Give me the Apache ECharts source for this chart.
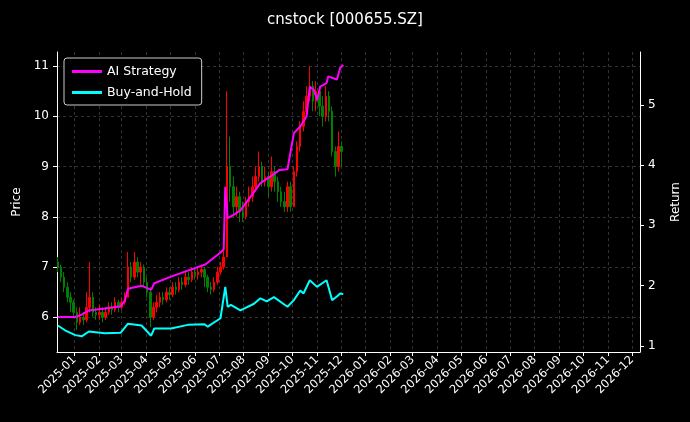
<!DOCTYPE html>
<html>
<head>
<meta charset="utf-8">
<script src="https://cdn.jsdelivr.net/npm/echarts@6/dist/echarts.min.js"></script>
<style>html,body{margin:0;background:#000}#c{width:690px;height:422px}</style>
</head>
<body>
<div id="c"></div>
<script>
// candle every 4 calendar days starting 2024-12-11
const candleStart = '2024-12-11';
const closes = [7.0,6.8,6.6,6.4,6.3,6.1,5.9,6.0,5.95,6.2,6.4,6.1,6.05,6.1,6.0,6.1,6.2,6.15,6.3,6.2,
  6.3,6.4,7.0,6.8,7.1,6.9,7.0,6.7,6.5,6.0,6.2,6.3,6.4,6.35,6.5,6.45,6.6,6.55,6.7,6.65,
  6.8,6.75,6.9,6.85,6.9,6.95,6.8,6.6,6.55,6.7,6.9,7.0,7.2,9.0,8.6,8.2,8.4,8.1,8.0,8.3,
  8.4,8.6,8.8,9.0,8.7,8.8,8.6,8.9,8.7,8.5,8.3,8.2,8.6,8.2,8.9,9.4,9.8,10.1,10.4,10.6,
  10.3,10.5,10.2,10.0,10.4,10.1,9.3,9.0,9.4,9.3];
const highs = [7.2,7.05,6.9,6.7,6.5,6.35,6.2,6.2,6.1,6.5,7.1,6.5,6.2,6.25,6.2,6.2,6.3,6.3,6.4,6.35,
  6.4,6.5,7.3,7.1,7.3,7.2,7.1,7.05,6.8,6.6,6.3,6.45,6.5,6.5,6.6,6.6,6.7,6.7,6.8,6.8,
  6.9,6.9,7.0,7.0,7.0,7.05,7.0,6.85,6.7,6.8,7.0,7.1,7.35,10.5,9.6,8.8,8.6,8.5,8.3,8.4,
  8.6,8.8,9.0,9.3,9.1,9.0,8.9,9.2,9.0,8.8,8.6,8.5,8.7,8.7,9.0,9.5,9.9,10.3,10.6,11.0,
  10.7,10.7,10.6,10.4,10.6,10.5,10.2,9.4,9.7,9.5];
const lows = [6.9,6.7,6.5,6.3,6.1,6.0,5.75,5.85,5.85,5.9,6.1,6.0,5.95,5.95,5.9,5.95,6.05,6.05,6.1,6.1,
  6.15,6.25,6.4,6.7,6.75,6.8,6.65,6.6,6.4,5.8,5.95,6.1,6.2,6.25,6.3,6.35,6.4,6.45,6.5,6.55,
  6.6,6.65,6.7,6.75,6.75,6.8,6.6,6.5,6.45,6.5,6.65,6.85,6.95,7.2,8.3,8.0,8.0,7.9,7.9,7.95,
  8.2,8.3,8.5,8.7,8.6,8.6,8.4,8.5,8.5,8.3,8.2,8.1,8.1,8.1,8.2,8.8,9.3,9.7,10.0,10.3,
  10.1,10.1,10.0,9.8,9.9,9.9,9.2,8.8,8.9,9.0];

// [date, cumulative return]
const aiStrategy = [['2024-12-11',1.48],['2025-01-02',1.48],['2025-01-10',1.52],['2025-01-19',1.59],
  ['2025-02-08',1.62],['2025-02-28',1.66],['2025-03-05',1.75],['2025-03-09',1.95],['2025-03-26',2.0],
  ['2025-04-07',1.93],['2025-04-11',2.04],['2025-05-02',2.15],['2025-05-23',2.25],['2025-06-14',2.35],
  ['2025-07-03',2.55],['2025-07-07',2.6],['2025-07-09',3.64],['2025-07-12',3.12],['2025-07-20',3.18],
  ['2025-07-28',3.25],['2025-08-14',3.55],['2025-08-22',3.7],['2025-08-30',3.77],['2025-09-08',3.85],
  ['2025-09-15',3.92],['2025-09-25',3.93],['2025-10-03',4.53],['2025-10-11',4.64],['2025-10-19',4.81],
  ['2025-10-23',5.3],['2025-10-28',5.25],['2025-11-01',5.08],['2025-11-05',5.3],['2025-11-13',5.36],
  ['2025-11-15',5.47],['2025-11-26',5.42],['2025-11-30',5.61],['2025-12-04',5.66]];
const buyHold = [['2024-12-11',1.34],['2024-12-20',1.26],['2025-01-02',1.18],['2025-01-10',1.16],
  ['2025-01-19',1.24],['2025-02-08',1.21],['2025-02-28',1.22],['2025-03-09',1.37],['2025-03-26',1.34],
  ['2025-04-07',1.17],['2025-04-11',1.29],['2025-05-02',1.29],['2025-05-23',1.35],['2025-06-13',1.36],
  ['2025-06-17',1.32],['2025-07-03',1.46],['2025-07-09',1.98],['2025-07-12',1.65],['2025-07-16',1.68],
  ['2025-07-28',1.59],['2025-08-14',1.7],['2025-08-22',1.79],['2025-08-30',1.74],['2025-09-08',1.81],
  ['2025-09-25',1.65],['2025-10-03',1.76],['2025-10-11',1.92],['2025-10-15',1.87],['2025-10-23',2.09],
  ['2025-11-01',1.98],['2025-11-13',2.09],['2025-11-20',1.76],['2025-11-26',1.82],['2025-11-30',1.87],
  ['2025-12-04',1.86]];

const monthTicks = ['2025-01','2025-02','2025-03','2025-04','2025-05','2025-06','2025-07','2025-08',
  '2025-09','2025-10','2025-11','2025-12','2026-01','2026-02','2026-03','2026-04','2026-05','2026-06',
  '2026-07','2026-08','2026-09','2026-10','2026-11','2026-12'];
const priceTicks = [6, 7, 8, 9, 10, 11];
const returnTicks = [1, 2, 3, 4, 5];

const DAY = 86400000;
const t0 = Date.parse(candleStart);
const candles = closes.map((c, i) => {
  const o = i === 0 ? 7.1 : closes[i - 1];
  return [t0 + i * 4 * DAY, o, c, lows[i], highs[i]];
});
const toXY = arr => arr.map(([d, v]) => [Date.parse(d), v]);
const monthVals = monthTicks.map(m => Date.parse(m + '-01'));
const fmtMonth = v => { const d = new Date(v); return d.getUTCFullYear() + '-' + String(d.getUTCMonth() + 1).padStart(2, '0'); };

const grid = { color: '#555', type: [3, 3], width: 0.6 };
const chart = echarts.init(document.getElementById('c'));
chart.setOption({
  backgroundColor: '#000',
  animation: false,
  title: { text: 'cnstock [000655.SZ]', left: 'center', top: 8,
    textStyle: { color: '#fff', fontSize: 15, fontWeight: 'normal', fontFamily: 'DejaVu Sans' } },
  legend: {
    orient: 'vertical', left: 64, top: 58, padding: [7, 10, 6, 8], itemGap: 8,
    borderColor: '#ccc', borderWidth: 1, borderRadius: 3, backgroundColor: '#000',
    itemWidth: 30, itemHeight: 3, icon: 'rect',
    textStyle: { color: '#fff', fontSize: 12.5, fontFamily: 'DejaVu Sans' },
    data: ['AI Strategy', 'Buy-and-Hold']
  },
  grid: { left: 57, right: 48, top: 52, bottom: 70 },
  xAxis: {
    type: 'value', min: Date.parse('2024-12-10'), max: Date.parse('2026-12-11'),
    axisLine: { lineStyle: { color: '#fff' } },
    axisTick: { customValues: monthVals, length: 4, lineStyle: { color: '#fff' } },
    axisLabel: { customValues: monthVals, formatter: fmtMonth, rotate: 45, color: '#fff',
      fontSize: 11.5, fontFamily: 'DejaVu Sans', margin: 6 },
    splitLine: { show: true, lineStyle: grid }
  },
  yAxis: [{
    type: 'value', min: 5.31, max: 11.28, name: 'Price', nameLocation: 'middle', nameGap: 32,
    nameTextStyle: { color: '#fff', fontSize: 12, fontFamily: 'DejaVu Sans' },
    axisLine: { show: true, lineStyle: { color: '#fff' } },
    axisTick: { show: true, customValues: priceTicks, length: 4 },
    axisLabel: { customValues: priceTicks, color: '#fff', fontSize: 12, fontFamily: 'DejaVu Sans' },
    splitLine: { show: true, lineStyle: grid }
  }, {
    type: 'value', min: 0.9, max: 5.875, name: 'Return', nameLocation: 'middle', nameGap: 30,
    nameTextStyle: { color: '#fff', fontSize: 12, fontFamily: 'DejaVu Sans' },
    axisLine: { show: true, lineStyle: { color: '#fff' } },
    axisTick: { show: true, customValues: returnTicks, length: 4 },
    axisLabel: { customValues: returnTicks, color: '#fff', fontSize: 12, fontFamily: 'DejaVu Sans' },
    splitLine: { show: false }
  }],
  series: [{
    type: 'candlestick', data: candles, barWidth: 2,
    itemStyle: { color: '#ff0000', color0: '#008000', borderColor: '#ff0000', borderColor0: '#008000', borderWidth: 1 }
  }, {
    name: 'AI Strategy', type: 'line', yAxisIndex: 1, data: toXY(aiStrategy), showSymbol: false,
    lineStyle: { color: '#ff00ff', width: 2 }, itemStyle: { color: '#ff00ff' }
  }, {
    name: 'Buy-and-Hold', type: 'line', yAxisIndex: 1, data: toXY(buyHold), showSymbol: false,
    lineStyle: { color: '#00ffff', width: 2 }, itemStyle: { color: '#00ffff' }
  }]
});
</script>
</body>
</html>
